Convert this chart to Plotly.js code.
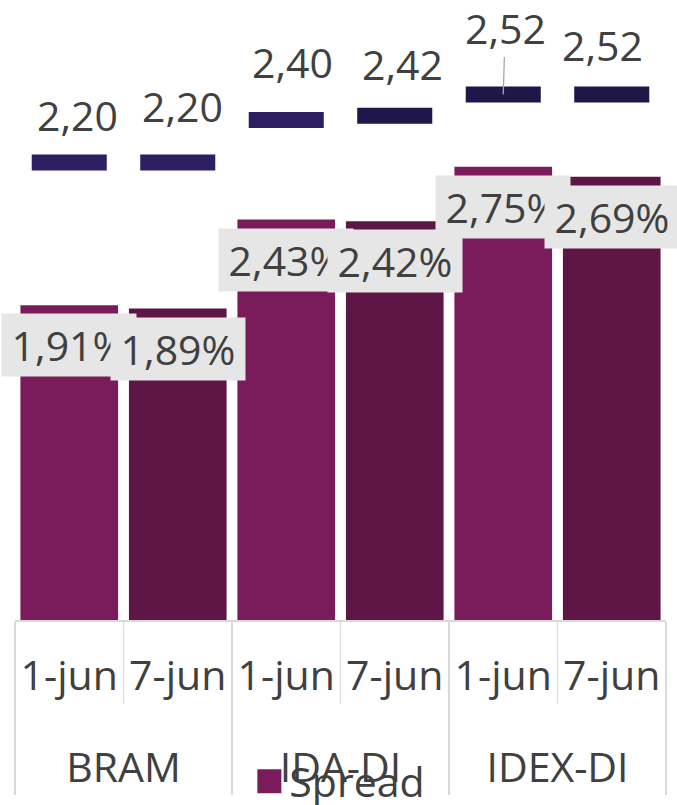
<!DOCTYPE html>
<html>
<head>
<meta charset="utf-8">
<script src="https://cdn.plot.ly/plotly-3.0.1.min.js"></script>
<style>html,body{margin:0;padding:0;background:#fff;}#chart{width:677px;height:805px;}</style>
</head>
<body>
<div id="chart"></div>
<script>
// ---- data ----
const groups = ['BRAM', 'BRAM', 'IDA-DI', 'IDA-DI', 'IDEX-DI', 'IDEX-DI'];
const dates = ['1-jun', '7-jun', '1-jun', '7-jun', '1-jun', '7-jun'];
const spread = [1.91, 1.89, 2.43, 2.42, 2.75, 2.69];      // %
const markerVals = [2.20, 2.20, 2.40, 2.42, 2.52, 2.52];
const spreadLabels = ['1,91%', '1,89%', '2,43%', '2,42%', '2,75%', '2,69%'];
const markerLabels = ['2,20', '2,20', '2,40', '2,42', '2,52', '2,52'];

// ---- styles ----
const FONT = 'Open Sans, Liberation Sans, sans-serif';
const TXT = '#404040';
const barColors = ['#7A1C5B', '#5E1647', '#7A1C5B', '#5E1647', '#7A1C5B', '#5E1647'];
const dashColors = ['#2E1F63', '#2E1F63', '#2E1F63', '#21164A', '#21164A', '#21164A'];
// label offsets (px) of marker labels relative to their dash
const dashLabelDX = [8, 5, 6, 8, 2, -9];
const dashLabelDY = [48, 57, 58, 52, 67, 50];
const leader = [false, false, false, false, true, false];

// group labels are pushed one line lower (as in the reference)
const groupTicks = groups.map(g => '<br>' + g);

const traces = [
  {
    type: 'bar', name: 'Spread',
    x: [groupTicks, dates], y: spread,
    marker: {color: barColors},
    hoverinfo: 'skip'
  },
  {
    type: 'scatter', mode: 'markers', name: 'Marker', showlegend: false,
    x: [groupTicks, dates], y: markerVals, yaxis: 'y2',
    marker: {symbol: 'line-ew', size: 53.6, line: {width: 16, color: dashColors}},
    hoverinfo: 'skip'
  }
];

const annotations = [];
spread.forEach((v, i) => {
  annotations.push({
    x: i, y: v, xref: 'x', yref: 'y',
    text: spreadLabels[i], showarrow: false,
    yanchor: 'middle', xanchor: 'center', yshift: -40,
    bgcolor: '#E6E6E6', borderpad: 3, width: 128,
    font: {family: FONT, size: 41, color: TXT}
  });
});
markerVals.forEach((v, i) => {
  const a = {
    x: i, y: v, xref: 'x', yref: 'y2',
    text: markerLabels[i],
    font: {family: FONT, size: 41, color: TXT}
  };
  if (leader[i]) {
    Object.assign(a, {showarrow: true, arrowhead: 0, arrowwidth: 1.3, arrowcolor: '#A6A6A6',
      ax: dashLabelDX[i], ay: -dashLabelDY[i], standoff: 0});
  } else {
    Object.assign(a, {showarrow: false, xshift: dashLabelDX[i], yshift: dashLabelDY[i]});
  }
  annotations.push(a);
});

const layout = {
  width: 677, height: 805,
  margin: {l: 14.5, r: 11, t: 0, b: 185},
  paper_bgcolor: '#ffffff', plot_bgcolor: '#ffffff',
  bargap: 0.1,
  showlegend: true,
  legend: {orientation: 'h', xref: 'paper', x: 0.36, xanchor: 'left',
           yref: 'container', y: 0, yanchor: 'bottom',
           font: {family: FONT, size: 41, color: TXT}, bgcolor: 'rgba(0,0,0,0)'},
  xaxis: {
    type: 'multicategory', automargin: false, tickangle: 0, range: [-0.5, 5.5],
    showline: true, linecolor: '#D9D9D9', linewidth: 1.5,
    ticks: 'outside', tickson: 'boundaries', ticklen: 82, tickcolor: '#D9D9D9', tickwidth: 1.5,
    ticklabelstandoff: 19,
    showdividers: true, dividercolor: '#D9D9D9', dividerwidth: 1.5,
    tickfont: {family: FONT, size: 41, color: TXT},
    showgrid: false, zeroline: false, fixedrange: true
  },
  yaxis: {range: [0, 3.762], visible: false, showgrid: false, zeroline: false, automargin: false},
  yaxis2: {range: [0.047, 2.965], overlaying: 'y', visible: false, showgrid: false, zeroline: false, automargin: false},
  annotations: annotations
};

Plotly.newPlot('chart', traces, layout, {displayModeBar: false, staticPlot: true}).then(() => {
  document.querySelectorAll('#chart .legendpoints path').forEach(p => {
    const t = p.getAttribute('transform') || '';
    p.setAttribute('transform', t + ' scale(2)');
  });
  // nudge the legend a little lower, as in the reference
  const lg = document.querySelector('#chart g.legend');
  if (lg) {
    const t = lg.getAttribute('transform') || '';
    lg.setAttribute('transform', t + ' translate(0,10)');
  }
});
</script>
</body>
</html>
